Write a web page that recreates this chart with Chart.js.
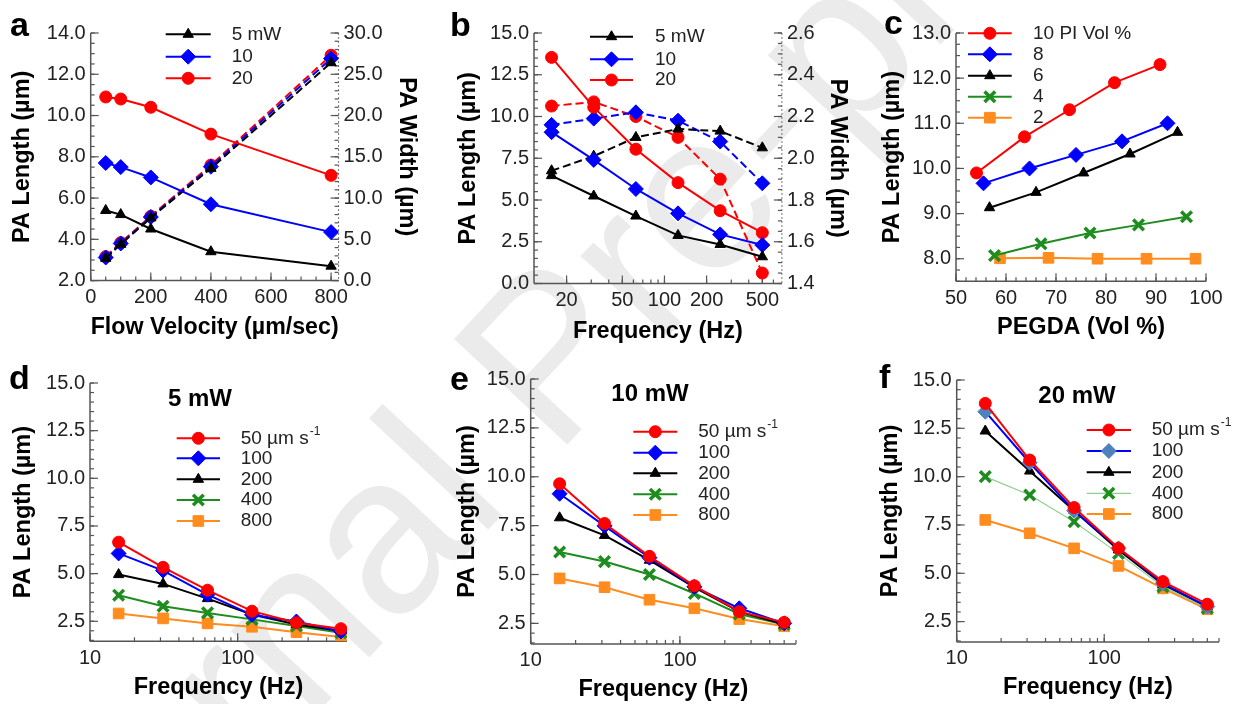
<!DOCTYPE html>
<html>
<head>
<meta charset="utf-8">
<script src="https://cdn.jsdelivr.net/npm/chart.js@4.4.1/dist/chart.umd.min.js"></script>
<style>
html,body{margin:0;padding:0;background:#fff;}
#page{position:relative;width:1237px;height:704px;overflow:hidden;font-family:'Liberation Sans',Arial,sans-serif;}
.box{position:absolute;z-index:1;}
.letter{position:absolute;z-index:2;font-weight:bold;font-size:34px;line-height:1;color:#000;}
.head{position:absolute;z-index:2;font-weight:bold;font-size:24px;line-height:1;color:#000;transform:translate(-50%,-50%);white-space:nowrap;}
#wm{position:absolute;z-index:0;left:545px;top:355px;font-size:225px;color:#ebebeb;white-space:nowrap;line-height:1;
    transform:translate(-50%,-50%) rotate(-47deg);}
</style>
</head>
<body>
<div id="page">
  <div id="wm">Journal Pre-proof</div>
  <div class="letter" style="left:10px;top:7px">a</div>
  <div class="letter" style="left:450px;top:7px">b</div>
  <div class="letter" style="left:884px;top:5px">c</div>
  <div class="letter" style="left:9px;top:360px">d</div>
  <div class="letter" style="left:450px;top:361px">e</div>
  <div class="letter" style="left:879px;top:359px">f</div>
  <div class="head" style="left:200px;top:398px">5 mW</div>
  <div class="head" style="left:650px;top:393px">10 mW</div>
  <div class="head" style="left:1077px;top:395px">20 mW</div>
</div>
<script>
// panel a : flow velocity
const flowVelocity = [50, 100, 200, 400, 800];
const lengthA5 = [5.4, 5.2, 4.5, 3.4, 2.7];
const lengthA10 = [7.7, 7.5, 7.0, 5.7, 4.35];
const lengthA20 = [10.9, 10.8, 10.4, 9.1, 7.1];
const widthA5 = [2.7, 4.4, 7.6, 13.6, 26.4];
const widthA10 = [2.8, 4.5, 7.7, 13.8, 26.9];
const widthA20 = [2.9, 4.6, 7.8, 14.0, 27.3];

// panel b : frequency
const frequency = [15.625, 31.25, 62.5, 125, 250, 500];
const lengthB5 = [6.46, 5.24, 4.04, 2.88, 2.34, 1.6];
const lengthB10 = [9.06, 7.4, 5.66, 4.2, 2.94, 2.3];
const lengthB20 = [13.54, 10.56, 8.04, 6.04, 4.36, 3.04];
const widthB5 = [1.94, 2.01, 2.10, 2.14, 2.13, 2.05];
const widthB10 = [2.16, 2.19, 2.22, 2.18, 2.08, 1.88];
const widthB20 = [2.25, 2.27, 2.20, 2.10, 1.90, 1.45];

// panel c : PEGDA
const pegda10 = [54.1, 63.7, 72.7, 81.7, 90.8];
const lengthC10 = [9.9, 10.7, 11.3, 11.9, 12.3];
const pegda8 = [55.5, 64.7, 74.0, 83.2, 92.3];
const lengthC8 = [9.67, 10.0, 10.3, 10.6, 11.0];
const pegda6 = [56.7, 66.0, 75.5, 84.8, 94.3];
const lengthC6 = [9.13, 9.47, 9.9, 10.32, 10.8];
const pegda4 = [57.7, 67.0, 76.8, 86.5, 96.1];
const lengthC4 = [8.07, 8.33, 8.57, 8.75, 8.93];
const pegda2 = [58.8, 68.5, 78.3, 88.1, 97.9];
const lengthC2 = [8.01, 8.02, 8.0, 8.0, 8.0];

// panels d-f : PA length per flow velocity (50,100,200,400,800 um/s)
const lengthD50 = [6.65, 5.33, 4.13, 3.03, 2.42, 2.11];
const lengthD100 = [6.06, 5.16, 3.90, 2.84, 2.49, 1.97];
const lengthD200 = [4.95, 4.46, 3.69, 2.86, 2.33, 1.99];
const lengthD400 = [3.87, 3.29, 2.94, 2.60, 2.25, 1.90];
const lengthD800 = [2.91, 2.65, 2.39, 2.21, 1.93, 1.67];

const lengthE50 = [9.64, 7.61, 5.93, 4.42, 3.10, 2.55];
const lengthE100 = [9.13, 7.49, 5.86, 4.37, 3.27, 2.50];
const lengthE200 = [7.90, 7.00, 5.73, 4.34, 3.10, 2.45];
const lengthE400 = [6.15, 5.66, 5.00, 4.03, 2.98, 2.44];
const lengthE800 = [4.80, 4.35, 3.71, 3.27, 2.72, 2.35];

const lengthF50 = [13.79, 10.86, 8.40, 6.29, 4.57, 3.40];
const lengthF100 = [13.36, 10.72, 8.24, 6.29, 4.48, 3.28];
const lengthF200 = [12.36, 10.29, 8.24, 6.21, 4.43, 3.28];
const lengthF400 = [10.0, 9.05, 7.67, 6.03, 4.31, 3.19];
const lengthF800 = [7.76, 7.07, 6.29, 5.38, 4.22, 3.14];

// tick labels
const ticksAx = [0, 200, 400, 600, 800];
const ticksAy = [2, 4, 6, 8, 10, 12, 14];
const ticksAy2 = [0, 5, 10, 15, 20, 25, 30];
const ticksBx = [20, 50, 100, 200, 500];
const ticksBy = [0, 2.5, 5, 7.5, 10, 12.5, 15];
const ticksBy2 = [1.4, 1.6, 1.8, 2.0, 2.2, 2.4, 2.6];
const ticksCx = [50, 60, 70, 80, 90, 100];
const ticksCy = [8, 9, 10, 11, 12, 13];
const ticksFreqX = [10, 100];
const ticksLenY = [2.5, 5, 7.5, 10, 12.5, 15];

Chart.defaults.font.family = "'Liberation Sans', Arial, sans-serif";
Chart.defaults.color = '#222';
Chart.defaults.animation = false;

const TITLE_SIZE = 23.5;
const TITLE_OFF = TITLE_SIZE * 0.6 + 4;

const RED = {c: '#ff0000', ps: 'circle', r: 6};
const BLUE = {c: '#0000ff', ps: 'rectRot', r: 7.5};
const BLACK = {c: '#000000', ps: 'triangle', r: 6};
const GREEN = {c: '#1e8c1e', ps: 'crossRot', r: 7.5, bw: 3.5};
const ORANGE = {c: '#ff8c1e', ps: 'rect', r: 7.5};

function pts(xs, ys) {
    return xs.map((x, i) => ({x: x, y: ys[i]}));
}

function ser(label, xs, ys, s, extra) {
    const mk = s.mk || s.c;
    return Object.assign({
        label: label,
        data: pts(xs, ys),
        borderColor: s.c,
        backgroundColor: mk,
        borderWidth: s.lw || 2,
        pointStyle: s.ps,
        pointRadius: s.r,
        pointHoverRadius: s.r,
        pointBackgroundColor: mk,
        pointBorderColor: mk,
        pointBorderWidth: s.bw || 1,
        tension: 0
    }, extra || {});
}

function steps(min, max, step) {
    const out = [];
    for (let v = Math.ceil(min / step - 1e-9) * step; v <= max + 1e-9; v += step) {
        out.push(+v.toFixed(6));
    }
    return out;
}

function logMinor(min, max) {
    const out = [];
    for (let e = Math.floor(Math.log10(min)); e <= Math.ceil(Math.log10(max)); e++) {
        for (let k = 1; k < 10; k++) {
            const v = k * Math.pow(10, e);
            if (v >= min && v <= max) out.push(v);
        }
    }
    return out;
}

function scale(type, pos, min, max, labels, fmt, title) {
    return {
        type: type, position: pos, min: min, max: max, bounds: 'data',
        grid: {display: false, drawTicks: false, drawOnChartArea: false},
        border: {display: false},
        ticks: {autoSkip: false, maxRotation: 0, padding: 5, font: {size: 20}, color: '#222', callback: fmt},
        afterBuildTicks: s => { s.ticks = labels.map(v => ({value: v})); },
        title: title ? {display: true, text: title, color: '#000', font: {size: TITLE_SIZE, weight: 'bold'}, padding: {top: 4, bottom: 4}} : {display: false}
    };
}

const fix1 = v => Number(v).toFixed(1);
const plain = v => String(v);

// axis lines and inward tick marks
function axesPlugin(axes) {
    return {
        id: 'axesDraw',
        beforeDatasetsDraw(chart) {
            const ctx = chart.ctx;
            const a = chart.chartArea;
            ctx.save();
            axes.forEach(ax => {
                const sc = chart.scales[ax.id];
                ctx.setLineDash(ax.dotted ? [2, 2] : []);
                ctx.strokeStyle = ax.dotted ? '#777' : '#555';
                ctx.lineWidth = ax.dotted ? 1 : 1.5;
                ctx.beginPath();
                if (ax.side === 'bottom') { ctx.moveTo(a.left, a.bottom); ctx.lineTo(a.right, a.bottom); }
                if (ax.side === 'left') { ctx.moveTo(a.left, a.top); ctx.lineTo(a.left, a.bottom); }
                if (ax.side === 'right') { ctx.moveTo(a.right, a.top); ctx.lineTo(a.right, a.bottom); }
                ctx.stroke();
                ctx.setLineDash([]);
                ctx.strokeStyle = '#555';
                ctx.lineWidth = 1.2;
                const mark = (v, len) => {
                    const p = sc.getPixelForValue(v);
                    ctx.beginPath();
                    if (ax.side === 'bottom') { ctx.moveTo(p, a.bottom); ctx.lineTo(p, a.bottom - len); }
                    if (ax.side === 'left') { ctx.moveTo(a.left, p); ctx.lineTo(a.left + len, p); }
                    if (ax.side === 'right') { ctx.moveTo(a.right, p); ctx.lineTo(a.right - len, p); }
                    ctx.stroke();
                };
                ax.minor.forEach(v => mark(v, 4));
                ax.major.forEach(v => mark(v, 8));
            });
            ctx.restore();
        }
    };
}

function drawMarker(ctx, d, x, y) {
    ctx.fillStyle = d.pointBackgroundColor;
    ctx.strokeStyle = d.pointBorderColor;
    ctx.lineWidth = d.pointBorderWidth;
    Chart.helpers.drawPoint(ctx, {pointStyle: d.pointStyle, radius: d.pointRadius, rotation: 0, borderWidth: d.pointBorderWidth}, x, y);
}

// legend inside the plot, lines with markers
function legendPlugin(lg, ox, oy) {
    return {
        id: 'inLegend',
        afterDatasetsDraw(chart) {
            const ctx = chart.ctx;
            const sets = chart.data.datasets.filter(d => !d.noLegend);
            ctx.save();
            sets.forEach((d, i) => {
                const y = lg.rows[i] - oy;
                const x1 = lg.x1 - ox, x2 = lg.x2 - ox, tx = lg.tx - ox;
                ctx.strokeStyle = d.borderColor;
                ctx.lineWidth = d.borderWidth;
                ctx.beginPath();
                ctx.moveTo(x1, y);
                ctx.lineTo(x2, y);
                ctx.stroke();
                drawMarker(ctx, d, (x1 + x2) / 2, y);
                ctx.fillStyle = '#222';
                ctx.font = "19px 'Liberation Sans', Arial, sans-serif";
                ctx.textBaseline = 'middle';
                ctx.textAlign = 'left';
                ctx.fillText(d.label, tx, y);
                if (d.sup) {
                    const w = ctx.measureText(d.label).width;
                    ctx.font = "12px 'Liberation Sans', Arial, sans-serif";
                    ctx.fillText(d.sup, tx + w + 1, y - 7);
                }
            });
            ctx.restore();
        }
    };
}

function makePanel(g, datasets, scales, axes, lg) {
    const cl = Math.round(g.titleL - TITLE_OFF);
    const ct = Math.round(g.top) - 20;
    const yW = g.left - cl;
    const y2W = g.titleR ? g.titleR + TITLE_OFF - g.right : 0;
    const padR = g.titleR ? 0 : 22;
    const cw = Math.round(g.right + y2W + padR - cl);
    const xH = g.titleB + TITLE_OFF - g.bottom;
    const ch = Math.round(g.bottom + xH - ct);
    const box = document.createElement('div');
    box.className = 'box';
    box.style.left = cl + 'px';
    box.style.top = ct + 'px';
    box.style.width = cw + 'px';
    box.style.height = ch + 'px';
    const canvas = document.createElement('canvas');
    box.appendChild(canvas);
    document.getElementById('page').appendChild(box);

    scales.x.afterFit = s => { s.height = xH; };
    scales.y.afterFit = s => { s.width = yW; };
    if (scales.y2) scales.y2.afterFit = s => { s.width = y2W; };

    return new Chart(canvas, {
        type: 'line',
        data: {datasets: datasets},
        options: {
            responsive: true,
            maintainAspectRatio: false,
            layout: {padding: {top: 20, left: 0, right: padR, bottom: 0}},
            plugins: {legend: {display: false}, tooltip: {enabled: false}},
            scales: scales
        },
        plugins: [axesPlugin(axes), legendPlugin(lg, cl, ct)]
    });
}

const DASH = {borderDash: [8, 4], noLegend: true, yAxisID: 'y2'};

// ---- a ----
makePanel(
    {left: 90.7, top: 33.3, right: 339, bottom: 281, titleL: 21.7, titleB: 328.3, titleR: 407.3},
    [
        ser('5 mW', flowVelocity, lengthA5, BLACK),
        ser('10', flowVelocity, lengthA10, BLUE),
        ser('20', flowVelocity, lengthA20, RED),
        ser('5 mW', flowVelocity, widthA5, BLACK, DASH),
        ser('10', flowVelocity, widthA10, BLUE, DASH),
        ser('20', flowVelocity, widthA20, RED, DASH)
    ],
    {
        x: scale('linear', 'bottom', 0, 825, ticksAx, plain, 'Flow Velocity (µm/sec)'),
        y: scale('linear', 'left', 2, 14, ticksAy, fix1, 'PA Length (µm)'),
        y2: scale('linear', 'right', 0, 30, ticksAy2, fix1, 'PA Width (µm)')
    },
    [
        {id: 'x', side: 'bottom', major: ticksAx, minor: steps(0, 825, 50)},
        {id: 'y', side: 'left', major: ticksAy, minor: steps(2, 14, 0.5)},
        {id: 'y2', side: 'right', major: ticksAy2, minor: steps(0, 30, 1), dotted: true}
    ],
    {x1: 165.7, x2: 210.7, tx: 231.7, rows: [34.3, 56.7, 78.3]}
);

// ---- b ----
makePanel(
    {left: 534, top: 33.3, right: 782, bottom: 283.3, titleL: 468.3, titleB: 331.7, titleR: 838},
    [
        ser('5 mW', frequency, lengthB5, BLACK),
        ser('10', frequency, lengthB10, BLUE),
        ser('20', frequency, lengthB20, RED),
        ser('5 mW', frequency, widthB5, BLACK, DASH),
        ser('10', frequency, widthB10, BLUE, DASH),
        ser('20', frequency, widthB20, RED, DASH)
    ],
    {
        x: scale('logarithmic', 'bottom', 11.7, 690, ticksBx, plain, 'Frequency (Hz)'),
        y: scale('linear', 'left', 0, 15, ticksBy, fix1, 'PA Length (µm)'),
        y2: scale('linear', 'right', 1.4, 2.6, ticksBy2, fix1, 'PA Width (µm)')
    },
    [
        {id: 'x', side: 'bottom', major: ticksBx, minor: logMinor(11.7, 690)},
        {id: 'y', side: 'left', major: ticksBy, minor: steps(0, 15, 0.5)},
        {id: 'y2', side: 'right', major: ticksBy2, minor: steps(1.4, 2.6, 0.05), dotted: true}
    ],
    {x1: 590, x2: 633, tx: 655, rows: [36.7, 59.3, 80]}
);

// ---- c ----
makePanel(
    {left: 956, top: 33.3, right: 1206, bottom: 281.7, titleL: 891.7, titleB: 328.3},
    [
        ser('10 PI Vol %', pegda10, lengthC10, RED),
        ser('8', pegda8, lengthC8, BLUE),
        ser('6', pegda6, lengthC6, BLACK),
        ser('4', pegda4, lengthC4, GREEN),
        ser('2', pegda2, lengthC2, ORANGE)
    ],
    {
        x: scale('linear', 'bottom', 50, 100, ticksCx, plain, 'PEGDA (Vol %)'),
        y: scale('linear', 'left', 7.5, 13, ticksCy, fix1, 'PA Length (µm)')
    },
    [
        {id: 'x', side: 'bottom', major: ticksCx, minor: steps(50, 100, 2)},
        {id: 'y', side: 'left', major: ticksCy, minor: steps(7.5, 13, 0.25)}
    ],
    {x1: 968, x2: 1011.7, tx: 1033, rows: [33.3, 54.3, 75.7, 96.7, 117.7]}
);

// ---- d, e, f ----
function freqPanel(g, xmax, l50, l100, l200, l400, l800, lg, blueMk, greenLine) {
    const blue = blueMk ? Object.assign({}, BLUE, {mk: blueMk}) : BLUE;
    const green = greenLine ? Object.assign({}, GREEN, {c: greenLine, mk: GREEN.c, lw: 1.2}) : GREEN;
    return makePanel(
        g,
        [
            ser('50 µm s', frequency, l50, RED, {sup: '-1'}),
            ser('100', frequency, l100, blue),
            ser('200', frequency, l200, BLACK),
            ser('400', frequency, l400, green),
            ser('800', frequency, l800, ORANGE)
        ],
        {
            x: scale('logarithmic', 'bottom', 10, xmax, ticksFreqX, plain, 'Frequency (Hz)'),
            y: scale('linear', 'left', 1.45, 15, ticksLenY, fix1, 'PA Length (µm)')
        },
        [
            {id: 'x', side: 'bottom', major: ticksFreqX, minor: logMinor(10, xmax)},
            {id: 'y', side: 'left', major: ticksLenY, minor: steps(1.45, 15, 0.5)}
        ],
        lg
    );
}

freqPanel({left: 90, top: 382.7, right: 346.7, bottom: 641.7, titleL: 23.3, titleB: 688.3}, 550,
    lengthD50, lengthD100, lengthD200, lengthD400, lengthD800,
    {x1: 176.7, x2: 220, tx: 240.7, rows: [438.3, 458.3, 479.3, 500, 521]});

freqPanel({left: 530.7, top: 379, right: 795.7, bottom: 644, titleL: 466.7, titleB: 690}, 600,
    lengthE50, lengthE100, lengthE200, lengthE400, lengthE800,
    {x1: 633.3, x2: 677.3, tx: 698.3, rows: [431.7, 452.7, 473.3, 494.3, 515]});

freqPanel({left: 956.7, top: 380, right: 1219, bottom: 642.3, titleL: 890, titleB: 688.3}, 600,
    lengthF50, lengthF100, lengthF200, lengthF400, lengthF800,
    {x1: 1086.7, x2: 1131, tx: 1151.7, rows: [430, 451, 472.3, 493.3, 514]},
    '#4f81bd', '#8fcf8f');
</script>
</body>
</html>
